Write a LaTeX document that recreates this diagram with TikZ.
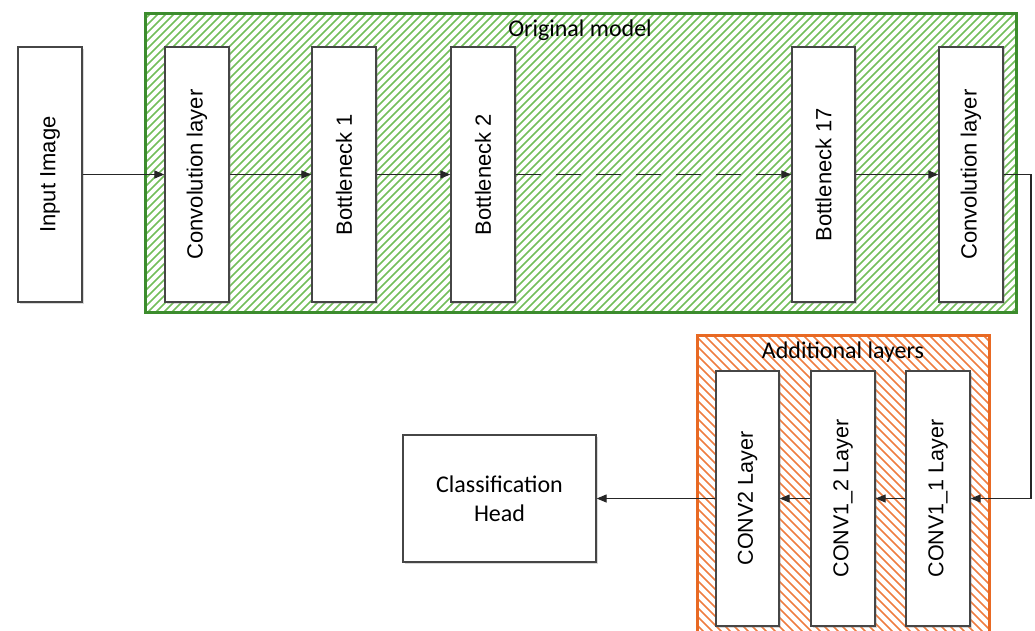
\documentclass[tikz,border=0pt]{standalone}
\usepackage{fontspec}
\usepackage{graphicx}
\setmainfont{Liberation Sans}
\newfontfamily\calfont{Carlito}
\usetikzlibrary{arrows.meta,shadows}
\definecolor{framegreen}{RGB}{60,140,45}
\definecolor{hatchgreen}{RGB}{115,190,90}
\definecolor{frameorange}{RGB}{232,105,35}
\definecolor{hatchorange}{RGB}{238,125,65}
\definecolor{boxline}{RGB}{70,70,70}
\begin{document}
\begin{tikzpicture}[x=1pt,y=-1pt,
  layerbox/.style={draw=boxline, fill=white, line width=1.3pt,
    minimum width=64pt, minimum height=255pt, inner sep=0pt,
    drop shadow={shadow xshift=1.5pt,shadow yshift=-1.5pt,opacity=0.3},
    font=\fontsize{22}{26}\selectfont},
  headbox/.style={draw=boxline, fill=white, line width=1.3pt,
    minimum width=193pt, minimum height=127pt, inner sep=0pt, align=center,
    drop shadow={shadow xshift=1.5pt,shadow yshift=-1.5pt,opacity=0.3},
    font=\calfont\fontsize{24}{29}\selectfont},
  frametitle/.style={font=\calfont\fontsize{24}{28}\selectfont, inner sep=0pt},
  arr/.style={line width=1.2pt, draw=black!85, -{Triangle[length=10pt,width=8pt]}},
  greenhatch/.style={hatchgreen, line width=1.5pt},
  orangehatch/.style={hatchorange, line width=1.5pt}]
\useasboundingbox (0,0) rectangle (1035,630);
\clip (0,0) rectangle (1035,630);

% original model frame
\begin{scope}
  \clip (145,13) rectangle (1016,312);
  \foreach \c in {-300,-292,...,1020} \draw[greenhatch] (\c,312) -- ++(300,-300);
\end{scope}
\draw[framegreen, line width=3pt] (145,13) rectangle (1016,312);
\node[frametitle] (gtitle) at (580,30) {Original model};

% additional layers frame
\begin{scope}
  \clip (697,335) rectangle (989,650);
  \foreach \c in {380,389,...,1000} \draw[orangehatch] (\c,335) -- ++(320,320);
\end{scope}
\draw[frameorange, line width=3pt] (697,335) rectangle (989,650);
\node[frametitle] (otitle) at (843,352) {Additional layers};

% layer blocks
\node[layerbox] (inp) at (50,174.5) {\rotatebox{90}{Input Image}};
\node[layerbox] (c1)  at (197,174.5) {\rotatebox{90}{Convolution layer}};
\node[layerbox] (b1)  at (344,174.5) {\rotatebox{90}{Bottleneck 1}};
\node[layerbox] (b2)  at (483,174.5) {\rotatebox{90}{Bottleneck 2}};
\node[layerbox, minimum width=63pt] (b17) at (823.5,174.5) {\rotatebox{90}{Bottleneck 17}};
\node[layerbox] (c5)  at (971,174.5) {\rotatebox{90}{Convolution layer}};

\node[layerbox, minimum width=63pt, font=\fontsize{21.5}{25}\selectfont] (k2)  at (747.5,498.5) {\rotatebox{90}{CONV2 Layer}};
\node[layerbox, font=\fontsize{21.5}{25}\selectfont] (k12) at (843,498.5) {\rotatebox{90}{CONV1\_2 Layer}};
\node[layerbox, font=\fontsize{21.5}{25}\selectfont] (k11) at (938,498.5) {\rotatebox{90}{CONV1\_1 Layer}};

\node[headbox] (head) at (499.5,498.5) {Classification\\Head};

% connectors
\coordinate (turn) at (1031,174.5);
\draw[arr] (inp.east) -- (c1.west);
\draw[arr] (c1.east) -- (b1.west);
\draw[arr] (b1.east) -- (b2.west);
\draw[arr, dash pattern=on 25pt off 15pt] (b2.east) -- (b17.west);
\draw[arr] (b17.east) -- (c5.west);
\draw[arr] (c5.east) -- (turn) |- (k11.east);
\draw[arr] (k11.west) -- (k12.east);
\draw[arr] (k12.west) -- (k2.east);
\draw[arr] (k2.west) -- (head.east);
\end{tikzpicture}
\end{document}
